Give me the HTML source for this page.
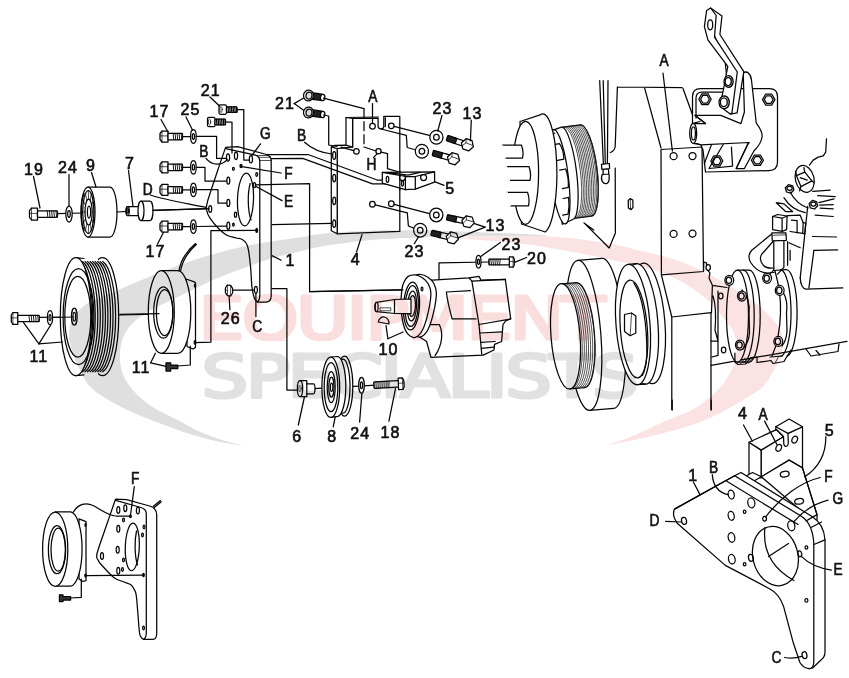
<!DOCTYPE html>
<html lang="en">
<head>
<meta charset="utf-8">
<title>Compressor Drive Assembly Diagram</title>
<style>
html,body{margin:0;padding:0;background:#fff;}
body{width:849px;height:678px;overflow:hidden;font-family:"Liberation Sans",sans-serif;}
svg{display:block;}
#draw path,#draw ellipse,#draw rect,#draw circle,#draw line{stroke:#050505;stroke-width:1.25;stroke-linejoin:round;stroke-linecap:round;}
#draw .t{stroke-width:0.7;}
#draw .th{stroke-width:0.9;}
#draw .g{stroke-width:0.75;stroke:#222;}
#draw .k{fill:#111;}
#labels text{font-family:"Liberation Sans",sans-serif;fill:#111;stroke:#111;stroke-width:0.65;}
#wm{mix-blend-mode:multiply;}
</style>
</head>
<body>
<svg width="849" height="678" viewBox="0 0 849 678">
<rect width="849" height="678" fill="#fff"/>
<g id="draw" fill="none">
<path d="M57.0,213.7L82.0,213.0"/>
<g transform="translate(29.5,214.0)"><path d="M2.0,-6.0L8.0,-6.0L8.0,6.0L2.0,6.0L0,3.3L0,-3.3Z" fill="#fff"/><path d="M2.0,-6.0L2.0,6.0M0,-0.6L8.0,-0.6" class="t"/><rect x="8.0" y="-3.2" width="20.0" height="6.5" rx="0.8" fill="#fff"/><path d="M17.7,-3.2L18.3,3.2M19.9,-3.2L20.5,3.2M22.1,-3.2L22.7,3.2M24.3,-3.2L24.9,3.2M26.5,-3.2L27.1,3.2" class="th"/></g>
<ellipse cx="69.0" cy="214.0" rx="3.2" ry="8.0" fill="#fff"/>
<ellipse cx="69.0" cy="214.0" rx="1.3" ry="3.4" fill="none"/>
<path d="M88,187L110,187A7,25 0 0 1 110,237L88,237Z" fill="#fff"/>
<ellipse cx="88.0" cy="212.0" rx="7.0" ry="25.0" fill="#fff"/>
<ellipse cx="88.3" cy="212.0" rx="5.6" ry="21.5" fill="none"/>
<ellipse cx="88.6" cy="212.0" rx="3.6" ry="13.0" fill="none"/>
<ellipse cx="89.0" cy="212.0" rx="1.6" ry="6.0" fill="none"/>
<path d="M92.2,212.0L93.9,212.0M91.7,218.5L93.1,222.8M90.4,223.3L91.1,230.6M88.6,225.0L88.3,233.5M86.8,223.3L85.5,230.6M85.5,218.5L83.5,222.8M85.0,212.0L82.7,212.0M85.5,205.5L83.5,201.2M86.8,200.7L85.5,193.4M88.6,199.0L88.3,190.5M90.4,200.7L91.1,193.4M91.7,205.5L93.1,201.2" class="t"/>
<path d="M84,193.5A6,22 0 0 0 84,230.5" stroke-width="1.6"/>
<path d="M117.0,212.0L127.0,211.4"/>
<path d="M127.5,206.5L139,206.5L139,215.5L127.5,215.5A1.6,4.5 0 0 1 127.5,206.5Z" fill="#fff"/>
<ellipse cx="127.8" cy="211.0" rx="1.5" ry="4.5" fill="none"/>
<ellipse cx="127.8" cy="211.0" rx="0.8" ry="2.3" fill="none"/>
<path d="M141,201L150,201A3,9.8 0 0 1 150,220.6L141,220.6A3,9.8 0 0 1 141,201Z" fill="#fff"/>
<path d="M141.0,201.0A3.0,9.8 0 0 1 141.0,220.6"/>
<path d="M153.0,210.4L209.0,208.6"/>
<path d="M33.5,176.5L40.0,208.0"/>
<path d="M69.0,174.5L69.0,206.0"/>
<path d="M91.5,172.5L96.0,187.0"/>
<path d="M128.5,170.5L133.0,206.5"/>
<path d="M150.5,195C165,200 185,203 209,208"/>
<path d="M157.5,244.0L164.0,231.5"/>
<path d="M182.0,136.5L191.0,136.5"/>
<g transform="translate(160.0,136.5)"><path d="M2.0,-5.5L8.0,-5.5L8.0,5.5L2.0,5.5L0,3.0L0,-3.0Z" fill="#fff"/><path d="M2.0,-5.5L2.0,5.5M0,-0.6L8.0,-0.6" class="t"/><rect x="8.0" y="-3.2" width="14.5" height="6.5" rx="0.8" fill="#fff"/><path d="M13.1,-3.2L13.7,3.2M15.1,-3.2L15.7,3.2M17.1,-3.2L17.7,3.2M19.1,-3.2L19.7,3.2M21.1,-3.2L21.7,3.2" class="th"/></g>
<ellipse cx="193.4" cy="136.5" rx="2.8" ry="6.8" fill="#fff"/>
<ellipse cx="193.4" cy="136.5" rx="1.1" ry="2.9" fill="none"/>
<path d="M182.0,167.3L191.0,167.3"/>
<g transform="translate(160.0,167.3)"><path d="M2.0,-5.5L8.0,-5.5L8.0,5.5L2.0,5.5L0,3.0L0,-3.0Z" fill="#fff"/><path d="M2.0,-5.5L2.0,5.5M0,-0.6L8.0,-0.6" class="t"/><rect x="8.0" y="-3.2" width="14.5" height="6.5" rx="0.8" fill="#fff"/><path d="M13.1,-3.2L13.7,3.2M15.1,-3.2L15.7,3.2M17.1,-3.2L17.7,3.2M19.1,-3.2L19.7,3.2M21.1,-3.2L21.7,3.2" class="th"/></g>
<ellipse cx="193.4" cy="167.3" rx="2.8" ry="6.8" fill="#fff"/>
<ellipse cx="193.4" cy="167.3" rx="1.1" ry="2.9" fill="none"/>
<path d="M182.0,189.8L191.0,189.8"/>
<g transform="translate(160.0,189.8)"><path d="M2.0,-5.5L8.0,-5.5L8.0,5.5L2.0,5.5L0,3.0L0,-3.0Z" fill="#fff"/><path d="M2.0,-5.5L2.0,5.5M0,-0.6L8.0,-0.6" class="t"/><rect x="8.0" y="-3.2" width="14.5" height="6.5" rx="0.8" fill="#fff"/><path d="M13.1,-3.2L13.7,3.2M15.1,-3.2L15.7,3.2M17.1,-3.2L17.7,3.2M19.1,-3.2L19.7,3.2M21.1,-3.2L21.7,3.2" class="th"/></g>
<ellipse cx="193.4" cy="189.8" rx="2.8" ry="6.8" fill="#fff"/>
<ellipse cx="193.4" cy="189.8" rx="1.1" ry="2.9" fill="none"/>
<path d="M182.0,226.6L191.0,226.6"/>
<g transform="translate(160.0,226.6)"><path d="M2.0,-5.5L8.0,-5.5L8.0,5.5L2.0,5.5L0,3.0L0,-3.0Z" fill="#fff"/><path d="M2.0,-5.5L2.0,5.5M0,-0.6L8.0,-0.6" class="t"/><rect x="8.0" y="-3.2" width="14.5" height="6.5" rx="0.8" fill="#fff"/><path d="M13.1,-3.2L13.7,3.2M15.1,-3.2L15.7,3.2M17.1,-3.2L17.7,3.2M19.1,-3.2L19.7,3.2M21.1,-3.2L21.7,3.2" class="th"/></g>
<ellipse cx="193.4" cy="226.6" rx="2.8" ry="6.8" fill="#fff"/>
<ellipse cx="193.4" cy="226.6" rx="1.1" ry="2.9" fill="none"/>
<path d="M161.0,119.5L168.0,132.0"/>
<path d="M186.0,117.0L192.5,130.0"/>
<rect x="219" y="104.89999999999999" width="7.5" height="9.4" rx="1.5" fill="#fff"/>
<ellipse cx="221" cy="109.6" rx="1.2" ry="3" class="t"/>
<rect x="226.5" y="106.8" width="10.5" height="5.6" rx="1" fill="#fff"/>
<path d="M228.0,106.8L228.4,112.39999999999999M229.7,106.8L230.1,112.39999999999999M231.4,106.8L231.8,112.39999999999999M233.1,106.8L233.5,112.39999999999999M234.8,106.8L235.2,112.39999999999999M236.5,106.8L236.9,112.39999999999999" stroke-width="1.2"/>
<rect x="207.5" y="117.3" width="7.5" height="9.4" rx="1.5" fill="#fff"/>
<ellipse cx="209.5" cy="122" rx="1.2" ry="3" class="t"/>
<rect x="215.0" y="119.2" width="10.5" height="5.6" rx="1" fill="#fff"/>
<path d="M216.5,119.2L216.9,124.8M218.2,119.2L218.6,124.8M219.9,119.2L220.3,124.8M221.6,119.2L222.0,124.8M223.3,119.2L223.7,124.8M225.0,119.2L225.4,124.8" stroke-width="1.2"/>
<path d="M210.0,97.0L219.5,106.0"/>
<path d="M257.5,302.0C257.0,301.4 255.3,300.6 254.4,298.2C253.5,295.8 252.7,292.9 252.0,287.5C251.3,282.1 251.2,272.9 250.5,266.0C249.8,259.1 248.9,250.4 247.5,246.0C246.1,241.6 244.0,240.7 242.1,239.4C240.2,238.1 238.6,238.7 236.0,238.0C233.4,237.3 229.6,236.8 226.8,235.3C224.0,233.8 221.8,231.8 219.0,229.0C216.2,226.2 212.1,221.4 210.0,218.2C207.9,215.0 207.0,212.6 206.6,209.8C206.2,207.0 205.8,207.8 207.6,201.3C209.4,194.8 214.6,179.7 217.6,170.7C220.6,161.7 224.3,151.3 225.6,147.4L237.5,146.6L266.5,154.5Q271.2,156 271.2,161L271.2,296Q271,302 266,302Z" fill="#fff"/>
<path d="M225.8,148.6L255.5,155.2Q259.8,156.5 259.8,161.5L259.8,296Q259.5,300.5 257.5,302"/>
<path d="M259,157.3L270.5,157.3M259.8,160.5L271.2,160.5M257,155.6L268.6,155.4" class="t"/>
<ellipse cx="228.0" cy="157.6" rx="1.6" ry="3.7" fill="none"/>
<ellipse cx="236.0" cy="155.8" rx="1.6" ry="3.7" fill="none"/>
<ellipse cx="250.9" cy="159.2" rx="1.6" ry="3.7" fill="none"/>
<ellipse cx="228.3" cy="180.6" rx="1.5" ry="3.6" fill="none"/>
<ellipse cx="228.3" cy="202.9" rx="1.5" ry="3.6" fill="none"/>
<ellipse cx="228.3" cy="225.8" rx="1.5" ry="3.6" fill="none"/>
<ellipse cx="210.2" cy="209.0" rx="1.5" ry="3.4" fill="none"/>
<ellipse cx="233.4" cy="168.8" rx="0.9" ry="1.5" fill="none"/>
<ellipse cx="256.7" cy="174.5" rx="0.9" ry="1.8" fill="none"/>
<ellipse cx="254.4" cy="185.2" rx="1.2" ry="2.5" fill="none"/>
<ellipse cx="235.5" cy="214.7" rx="1.1" ry="2.6" fill="none"/>
<ellipse cx="233.4" cy="224.6" rx="0.8" ry="1.6" fill="none"/>
<ellipse cx="241.0" cy="166.0" rx="1.0" ry="1.6" fill="#111"/>
<ellipse cx="256.7" cy="230.4" rx="0.9" ry="2.0" fill="#111"/>
<ellipse cx="245.5" cy="199.5" rx="8.0" ry="26.4" fill="none" transform="rotate(2 245.5 199.5)"/>
<path d="M250.2,183.5C247.5,193 247.5,210 251,220"/>
<path d="M196.2,136.3L216.6,136.3L216.6,158.4L226.5,158.4"/>
<path d="M196.2,167.3L205.0,167.3L205.0,181.0L226.8,181.0"/>
<path d="M196.2,189.6L218.0,189.6L218.0,203.2L226.8,203.2"/>
<path d="M196.2,226.5L226.8,226.2"/>
<path d="M237.2,109.5L243.8,109.5L243.8,160.0L249.5,160.0"/>
<path d="M225.5,122.0L232.0,122.0L232.0,153.0"/>
<path d="M153.0,210.4L209.0,208.6"/>
<path d="M206,158.4C212,166 222,166 227.3,159.3"/>
<path d="M260.5,143.8L252.0,155.3"/>
<path d="M241.8,166.6L281.2,173.0"/>
<path d="M255.2,186.0L282.0,200.6"/>
<path d="M255.4,184.8L309.6,183.7L309.6,291.7L403.0,289.8"/>
<path d="M272.0,224.6L331.5,223.4"/>
<path d="M272.0,255.6L281.2,260.2"/>
<path d="M272.0,288.7L286.9,288.7L286.9,390.0L298.3,390.0"/>
<path d="M232.2,290.2L254.4,290.2"/>
<path d="M225.4,288L227.4,285L230.6,285.4L232.6,288.4L232.6,293L230.6,296L227.4,295.6L225.4,292.6Z" fill="#fff"/>
<path d="M227.4,285L227.6,295.6M230.6,285.4L230.6,296M225.4,290.3L227.5,290.3" class="t"/>
<ellipse cx="255.9" cy="289.8" rx="1.5" ry="3.5" fill="none"/>
<path d="M229.1,296.0L229.9,309.7"/>
<path d="M255.9,293.3L255.9,316.6"/>
<path d="M195.0,342.7L210.9,342.2L210.9,230.6L256.0,230.3"/>
<path d="M337.2,148.5L352.6,147L352.6,118.5L378.1,118.2L378.1,126.5Q378.3,128.9 381,128.9Q383.8,128.9 383.8,126.5L383.8,116.4L399.8,116.4L399.8,231.4L337.2,233.8Z" fill="#fff"/>
<path d="M331.3,147L337.2,148.5L337.2,233.8L331.3,230.7Z" fill="#fff"/>
<path d="M331.3,147L334.7,145.4L346,145.2L352.6,147L337.2,148.5Z" fill="#fff"/>
<path d="M346,117.5L352.6,118.5L352.6,147L346,145.2Z" fill="#fff"/>
<path d="M346,117.5L378.1,117M385.3,117.5L385.3,126.5"/>
<ellipse cx="372.5" cy="126.2" rx="2.8" ry="2.8" fill="none"/>
<ellipse cx="391.3" cy="125.8" rx="2.8" ry="2.8" fill="none"/>
<ellipse cx="356.4" cy="151.3" rx="2.8" ry="2.8" fill="none"/>
<ellipse cx="372.4" cy="204.2" rx="2.8" ry="2.8" fill="none"/>
<ellipse cx="391.3" cy="203.7" rx="2.8" ry="2.8" fill="none"/>
<ellipse cx="378.5" cy="151.3" rx="2.6" ry="2.6" fill="none"/>
<ellipse cx="334.2" cy="155.5" rx="1.5" ry="3.8" fill="none"/>
<ellipse cx="334.2" cy="178.1" rx="1.5" ry="3.8" fill="none"/>
<ellipse cx="334.2" cy="200.8" rx="1.5" ry="3.8" fill="none"/>
<ellipse cx="334.2" cy="223.6" rx="1.5" ry="3.8" fill="none"/>
<path d="M266.7,154.6L308.0,154.5L377.2,180.0L387.5,180.0"/>
<path d="M271.2,158.6L302.7,158.3L372.5,183.8L400.8,183.8"/>
<g transform="translate(308.5,95.5) rotate(8)"><rect x="3" y="-3.2" width="11.5" height="6.4" rx="1.5" fill="#222"/><ellipse cx="14.3" cy="0" rx="2.2" ry="3.2" fill="#fff"/><ellipse cx="0" cy="0" rx="5" ry="5.4" fill="#fff" stroke-width="1.5"/><ellipse cx="0.5" cy="0" rx="3" ry="3.5" fill="#ddd" stroke-width="1.3"/></g>
<g transform="translate(308.5,112.5) rotate(8)"><rect x="3" y="-3.2" width="11.5" height="6.4" rx="1.5" fill="#222"/><ellipse cx="14.3" cy="0" rx="2.2" ry="3.2" fill="#fff"/><ellipse cx="0" cy="0" rx="5" ry="5.4" fill="#fff" stroke-width="1.5"/><ellipse cx="0.5" cy="0" rx="3" ry="3.5" fill="#ddd" stroke-width="1.3"/></g>
<path d="M294.2,103.6L303.6,98.0"/>
<path d="M294.2,103.6L303.6,110.2"/>
<path d="M323.5,98.2L364.0,108.7"/>
<path d="M364,108.7L364,147" stroke-dasharray="9 4"/>
<path d="M364.0,147.0L376.0,151.0"/>
<path d="M381.2,152.2L387.5,153.6L387.5,168.7L400.8,172.5"/>
<path d="M323.5,115.0L328.7,116.0L328.7,145.0L337.0,146.5"/>
<path d="M341.0,147.2L353.8,150.6"/>
<path d="M304.5,142.3C312,149 322,153 331.9,154"/>
<path d="M372.5,103.5L372.5,123.4"/>
<path d="M373.4,157.7L377.0,153.8"/>
<path d="M394.0,126.4L430.4,135.7"/>
<path d="M381.0,129.0L406.3,135.3L407.2,147.5L416.0,150.0"/>
<path d="M375.2,204.8L407.3,212.8L408.4,226.0L414.3,228.3"/>
<path d="M394.0,204.4L430.4,213.8"/>
<g transform="translate(447,138) rotate(18.5)"><rect x="8" y="-2.7" width="9" height="5.4" fill="#fff"/><rect x="0" y="-2.8" width="9.5" height="5.6" rx="1" fill="#222"/><path d="M27.8,0L24.6,5.4L18.4,5.4L15.2,0L18.4,-5.4L24.6,-5.4Z" fill="#fff"/><path d="M18.4,-5.4L19.5,-1.5L17,2.5M19.5,-1.5L26.5,-1" class="t"/></g>
<g transform="translate(432.8,153) rotate(15.5)"><rect x="8" y="-2.7" width="9" height="5.4" fill="#fff"/><rect x="0" y="-2.8" width="9.5" height="5.6" rx="1" fill="#222"/><path d="M27.8,0L24.6,5.4L18.4,5.4L15.2,0L18.4,-5.4L24.6,-5.4Z" fill="#fff"/><path d="M18.4,-5.4L19.5,-1.5L17,2.5M19.5,-1.5L26.5,-1" class="t"/></g>
<g transform="translate(447,217.3) rotate(12)"><rect x="8" y="-2.7" width="9" height="5.4" fill="#fff"/><rect x="0" y="-2.8" width="9.5" height="5.6" rx="1" fill="#222"/><path d="M27.8,0L24.6,5.4L18.4,5.4L15.2,0L18.4,-5.4L24.6,-5.4Z" fill="#fff"/><path d="M18.4,-5.4L19.5,-1.5L17,2.5M19.5,-1.5L26.5,-1" class="t"/></g>
<g transform="translate(431.4,232.8) rotate(13.5)"><rect x="8" y="-2.7" width="9" height="5.4" fill="#fff"/><rect x="0" y="-2.8" width="9.5" height="5.6" rx="1" fill="#222"/><path d="M27.8,0L24.6,5.4L18.4,5.4L15.2,0L18.4,-5.4L24.6,-5.4Z" fill="#fff"/><path d="M18.4,-5.4L19.5,-1.5L17,2.5M19.5,-1.5L26.5,-1" class="t"/></g>
<ellipse cx="436.4" cy="137.2" rx="6.6" ry="6.9" fill="#fff" stroke-width="1.2"/>
<ellipse cx="436.4" cy="137.2" rx="2.8" ry="2.9" fill="none"/>
<ellipse cx="421.9" cy="151.3" rx="6.6" ry="6.9" fill="#fff" stroke-width="1.2"/>
<ellipse cx="421.9" cy="151.3" rx="2.8" ry="2.9" fill="none"/>
<ellipse cx="436.3" cy="214.9" rx="6.6" ry="6.9" fill="#fff" stroke-width="1.2"/>
<ellipse cx="436.3" cy="214.9" rx="2.8" ry="2.9" fill="none"/>
<ellipse cx="420.2" cy="230.2" rx="6.6" ry="6.9" fill="#fff" stroke-width="1.2"/>
<ellipse cx="420.2" cy="230.2" rx="2.8" ry="2.9" fill="none"/>
<path d="M442.0,115.5L437.7,131.0"/>
<path d="M471.3,120.2L470.4,140.6"/>
<path d="M485.1,227.2L474.5,223.6"/>
<path d="M485.1,227.2L458.0,237.8"/>
<path d="M414.3,243.7L418.6,236.6"/>
<path d="M362.0,234.7L356.6,251.9"/>
<path d="M382.3,172.3L434.6,171.8L434.6,182.2L415.3,189.2L405.4,189.7L382.3,183.1Z" fill="#fff"/>
<path d="M382.3,172.3L405.8,176.5L415.3,176.5L434.6,171.8M405.4,176.5L405.4,189.7M415.3,176.5L415.3,189.2M388,172.5L408,175.2L420,172.4" />
<ellipse cx="402.5" cy="177.5" rx="3.0" ry="3.0" fill="none"/>
<ellipse cx="423.6" cy="177.5" rx="3.0" ry="3.0" fill="none"/>
<ellipse cx="387.5" cy="179.3" rx="1.3" ry="3.0" fill="none"/>
<ellipse cx="402.5" cy="183.3" rx="1.0" ry="2.8" fill="none"/>
<path d="M399.8,171.0L399.8,190.0"/>
<path d="M434.5,181.7L444.0,185.3"/>
<path d="M439.0,288.7L439.0,262.8L489.0,262.0"/>
<ellipse cx="478.5" cy="261.8" rx="2.5" ry="6.4" fill="#fff"/>
<ellipse cx="478.5" cy="261.8" rx="1.0" ry="2.7" fill="none"/>
<g transform="translate(514.3,262.0) scale(-1,1)"><path d="M1.2,-5.2L5.0,-5.2L5.0,5.2L1.2,5.2L0,2.9L0,-2.9Z" fill="#fff"/><path d="M1.2,-5.2L1.2,5.2M0,-0.5L5.0,-0.5" class="t"/><rect x="5.0" y="-2.9" width="20.5" height="5.8" rx="0.8" fill="#fff"/><path d="M14.1,-2.9L14.7,2.9M16.1,-2.9L16.7,2.9M18.1,-2.9L18.7,2.9M20.1,-2.9L20.7,2.9M22.1,-2.9L22.7,2.9M24.1,-2.9L24.7,2.9" class="th"/></g>
<path d="M500.4,242.5L480.4,256.7"/>
<path d="M514.6,262.3L526.6,257.5"/>
<path d="M428.0,280.4L469.1,277.8L479.0,276.4L481.0,280.1L505.3,279.3L510.7,318.9L505.9,320.6L503.0,324.5L501.6,341.5L494.5,344.4L494.0,350.0L483.2,355.1L430.9,357.4L426.6,341.5L418.1,335.9L423.8,284.9Z" fill="#fff"/>
<path d="M469.1,277.8L471.9,281.2L505.3,279.3"/>
<path d="M471.9,281.2L479.0,324.5L510.7,318.9"/>
<path d="M479.0,324.5L481.8,354.5"/>
<path d="M479.8,333.0L502.2,331.9M480.7,342.4L495.1,341.5M481.2,348.3L494.0,347.2"/>
<path d="M446.4,292.0L470.5,290.6M452.1,318.9L476.1,318.9M446.4,292.0C447.4,302.0 449.6,308.9 452.1,318.9"/>
<path d="M422.4,324.5L439.3,324.5C443.0,331.9 443.0,343.9 435.1,355.7"/>
<path d="M409.5,281.6C410.6,279.2 411.8,277.1 413.7,275.9C415.6,274.7 418.4,274.3 420.8,274.5C423.1,274.7 425.7,275.9 427.9,277.3C430.0,278.8 432.1,280.4 433.5,283.0C434.9,285.6 436.4,288.0 436.4,292.9C436.4,297.9 434.9,306.6 433.5,312.7C432.1,318.9 430.0,325.7 427.9,329.7C425.7,333.7 423.1,336.1 420.8,336.8C418.4,337.5 415.7,336.1 413.7,333.9C411.7,331.8 410.1,328.5 408.9,324.0C407.7,319.6 406.9,312.7 406.6,307.1C406.4,301.4 406.7,294.3 407.2,290.1C407.7,285.8 408.4,283.9 409.5,281.6Z" fill="#fff"/>
<path d="M404.0,282.1C405.1,279.7 406.3,277.6 408.2,276.4C410.1,275.2 412.9,274.8 415.3,275.0C417.6,275.2 420.2,276.4 422.4,277.8C424.5,279.3 426.6,280.9 428.0,283.5C429.4,286.1 430.9,288.5 430.9,293.4C430.9,298.4 429.4,307.1 428.0,313.2C426.6,319.4 424.5,326.2 422.4,330.2C420.2,334.2 417.6,336.6 415.3,337.3C412.9,338.0 410.2,336.6 408.2,334.4C406.2,332.3 404.6,329.0 403.4,324.5C402.2,320.1 401.4,313.2 401.1,307.6C400.9,301.9 401.2,294.8 401.7,290.6C402.2,286.3 402.9,284.4 404.0,282.1Z" fill="#fff"/>
<ellipse cx="411.5" cy="306.0" rx="8.0" ry="24.0" fill="#fff" transform="rotate(3 411.5 306.0)"/>
<ellipse cx="411.7" cy="306.0" rx="6.6" ry="20.5" fill="none" transform="rotate(3 411.7 306.0)" stroke-width="1.7"/>
<ellipse cx="412.0" cy="306.0" rx="4.6" ry="15.0" fill="none" transform="rotate(3 412.0 306.0)"/>
<ellipse cx="412.2" cy="306.0" rx="3.2" ry="10.5" fill="none" transform="rotate(3 412.2 306.0)" stroke-width="1.3"/>
<ellipse cx="422.0" cy="289.0" rx="0.9" ry="1.8" fill="none"/>
<path d="M411,299L394.5,299.5L376.5,302.3A1.6,4.7 0 0 0 376.5,311.7L394.5,313.5L411,313.7Z" fill="#fff"/>
<ellipse cx="376.6" cy="307.0" rx="1.5" ry="4.7" fill="none"/>
<path d="M394.5,299.5L394.5,313.5"/>
<rect x="380.4" y="307.8" width="10.4" height="3" class="t"/>
<path d="M378.3,322A5.3,6 0 0 1 388.9,324Z" fill="#fff"/>
<path d="M387.9,338.7L386.0,325.5"/>
<path d="M387.9,338.7L403.0,332.0"/>
<path d="M309.6,291.7L403.0,289.8"/>
<path d="M314.3,388.7L398.3,383.8"/>
<path d="M300,380.6L306.8,380.6L306.8,383.8L313.5,383.8A1.5,5 0 0 1 313.5,393.8L306.8,393.8L306.8,396.6L300,396.6A2.6,8 0 0 1 300,380.6Z" fill="#fff"/>
<path d="M300.0,380.6A2.6,8.0 0 0 1 300.0,396.6"/>
<ellipse cx="300.0" cy="388.6" rx="1.2" ry="3.2" fill="none" class="t"/>
<path d="M306.8,383.8L306.8,393.8"/>
<ellipse cx="344.5" cy="386.2" rx="8.3" ry="30.0" fill="#fff"/>
<ellipse cx="343.0" cy="386.2" rx="7.0" ry="27.0" fill="none"/>
<path d="M330.8,357L338,356.5A8.5,30 0 0 1 338,416.3L330.8,417.4Z" fill="#fff"/>
<ellipse cx="330.8" cy="387.2" rx="8.9" ry="30.2" fill="#fff"/>
<ellipse cx="331.0" cy="387.2" rx="6.8" ry="24.5" fill="none"/>
<ellipse cx="331.2" cy="387.2" rx="4.0" ry="15.5" fill="none"/>
<ellipse cx="331.4" cy="387.2" rx="2.6" ry="10.0" fill="none" stroke-width="1.5"/>
<ellipse cx="331.6" cy="387.2" rx="1.2" ry="4.2" fill="none"/>
<ellipse cx="361.5" cy="385.3" rx="2.8" ry="8.0" fill="#fff"/>
<ellipse cx="361.5" cy="385.3" rx="1.1" ry="3.4" fill="none"/>
<g transform="translate(404.0,383.6) rotate(-3) scale(-1,1)"><path d="M1.4,-5.8L5.7,-5.8L5.7,5.8L1.4,5.8L0,3.2L0,-3.2Z" fill="#fff"/><path d="M1.4,-5.8L1.4,5.8M0,-0.6L5.7,-0.6" class="t"/><rect x="5.7" y="-3.2" width="24.5" height="6.4" rx="0.8" fill="#fff"/><path d="M14.8,-3.2L15.4,3.2M16.8,-3.2L17.4,3.2M18.8,-3.2L19.4,3.2M20.8,-3.2L21.4,3.2M22.8,-3.2L23.4,3.2M24.8,-3.2L25.4,3.2M26.8,-3.2L27.4,3.2M28.8,-3.2L29.4,3.2" class="th"/></g>
<path d="M304.3,397.5L298.3,425.0"/>
<path d="M335.1,417.4L333.2,426.8"/>
<path d="M361.9,393.3L359.6,422.0"/>
<path d="M395.5,388.7L388.9,421.1"/>
<path d="M38.0,317.4L74.0,317.0"/>
<path d="M118.0,315.0L160.0,314.2"/>
<ellipse cx="102.5" cy="316.7" rx="16.2" ry="59.0" fill="#fff"/>
<path d="M75.9,257.7L98,257.7L98,375.7L75.9,375.7Z" fill="#fff" style="stroke:none"/>
<path d="M79.9,261.6A15.6,56.0 0 0 1 79.9,371.8M82.4,261.6A15.6,56.0 0 0 1 82.4,371.8M85.0,261.6A15.6,56.0 0 0 1 85.0,371.8M87.5,261.6A15.6,56.0 0 0 1 87.5,371.8M90.1,261.6A15.6,56.0 0 0 1 90.1,371.8M92.6,261.6A15.6,56.0 0 0 1 92.6,371.8M95.1,261.6A15.6,56.0 0 0 1 95.1,371.8M97.7,261.6A15.6,56.0 0 0 1 97.7,371.8M100.2,261.6A15.6,56.0 0 0 1 100.2,371.8M102.8,261.6A15.6,56.0 0 0 1 102.8,371.8" stroke-width="0.95"/>
<path d="M75.9,257.7L84,258.5M75.9,375.7L84,374.9"/>
<ellipse cx="75.9" cy="316.7" rx="15.6" ry="59.0" fill="#fff"/>
<ellipse cx="78.5" cy="316.7" rx="15.4" ry="48.0" fill="none"/>
<ellipse cx="77.8" cy="316.7" rx="13.0" ry="40.3" fill="#fff"/>
<ellipse cx="74.3" cy="316.7" rx="2.8" ry="8.5" fill="none"/>
<ellipse cx="74.3" cy="316.7" rx="1.3" ry="4.3" fill="none"/>
<path d="M52.6,317.5L73.0,317.0"/>
<g transform="translate(11.3,318.5)"><path d="M1.6,-5.9L6.5,-5.9L6.5,5.9L1.6,5.9L0,3.2L0,-3.2Z" fill="#fff"/><path d="M1.6,-5.9L1.6,5.9M0,-0.6L6.5,-0.6" class="t"/><rect x="6.5" y="-3.2" width="21.5" height="6.4" rx="0.8" fill="#fff"/><path d="M17.7,-3.2L18.3,3.2M19.9,-3.2L20.5,3.2M22.1,-3.2L22.7,3.2M24.3,-3.2L24.9,3.2M26.5,-3.2L27.1,3.2" class="th"/></g>
<ellipse cx="50.0" cy="317.6" rx="2.6" ry="7.0" fill="#fff"/>
<ellipse cx="50.0" cy="317.6" rx="1.0" ry="2.9" fill="none"/>
<path d="M38.9,343.8L23.6,322.6"/>
<path d="M38.9,343.8L50.7,325.0"/>
<path d="M38.9,343.8L62.5,342.0"/>
<path d="M186,279L194.3,281.8L195.5,283L195.5,347.4L193,349L187,346.5Z" fill="#fff"/>
<ellipse cx="195.0" cy="285.5" rx="0.6" ry="1.5" fill="#111"/>
<ellipse cx="195.0" cy="342.5" rx="0.8" ry="1.8" fill="#111"/>
<path d="M179,270.7C181,258 188,250 195.5,243.6M180.6,271C182.5,259 189,251 196.3,244.5"/>
<path d="M161.3,270.7L177.8,270.7A13,41.3 0 0 1 177.8,353.3L161.3,353.3Z" fill="#fff"/>
<ellipse cx="161.3" cy="312.0" rx="13.0" ry="41.3" fill="#fff"/>
<ellipse cx="163.3" cy="312.5" rx="9.6" ry="25.6" fill="none"/>
<ellipse cx="164.6" cy="312.5" rx="8.2" ry="23.0" fill="none"/>
<path d="M120.0,314.4L159.0,313.7"/>
<path d="M166,362.8L170.7,362.8L170.7,365L177.8,365L177.8,368.6L170.7,368.6L170.7,371L166,371Z" fill="#333"/>
<path d="M177.8,366.0L190.3,365.0L190.3,346.0"/>
<path d="M150.7,362.8L155.4,353.3"/>
<path d="M150.7,362.8L166.0,366.3"/>
<path d="M617.4,87L682.2,87.7M617.4,87L615.2,146Q615,151 610.3,152.5M615.2,168L615.4,233L609.2,248L584,222.9M644.5,87.7L661,148M584.3,223.3L593.8,230"/>
<path d="M661,149.5L702,147L703.5,271.5L661.4,274.9Z" fill="#fff"/>
<ellipse cx="673.6" cy="156.2" rx="3.5" ry="3.5" fill="none"/>
<ellipse cx="692.5" cy="156.0" rx="3.5" ry="3.5" fill="none"/>
<ellipse cx="673.6" cy="233.9" rx="3.5" ry="3.5" fill="none"/>
<ellipse cx="692.5" cy="233.6" rx="3.5" ry="3.5" fill="none"/>
<path d="M661.4,274.9L671.8,317L711,312.7L711,409.5M671.8,317L671.8,409.5M703.5,271.5L703.8,262" />
<path d="M663.0,73.2L672.4,151.0"/>
<path d="M628.2,200.5L630.2,198.6L632.8,200L633,207.5L631,209.6L628.4,208Z" fill="#fff"/>
<path d="M630.2,198.6L630.6,209.4" class="t"/>
<path d="M599.7,80.6L603.4,164.3M603.2,80.6L605.3,164.3M608,80.6L607.4,164.3"/>
<path d="M601.5,164.3L609.3,163.5L609.6,168.5L601.8,169.3ZM603,169.3L608.5,168.8L608.7,174L603.2,174.5ZM602.2,174.5C600,180 603,184.5 607,183.5C609.5,182 609.5,178 609,174" fill="#fff"/>
<g transform="rotate(-7 578 171.5)">
<path d="M568,125.5L586,125.5A11,46 0 0 1 586,217.5L568,217.5Z" fill="#fff"/>
<path d="M569.4,125.5A11.0,46.0 0 0 1 569.4,217.5M571.1,125.5A11.0,46.0 0 0 1 571.1,217.5M572.8,125.5A11.0,46.0 0 0 1 572.8,217.5M574.5,125.5A11.0,46.0 0 0 1 574.5,217.5M576.2,125.5A11.0,46.0 0 0 1 576.2,217.5M577.9,125.5A11.0,46.0 0 0 1 577.9,217.5M579.6,125.5A11.0,46.0 0 0 1 579.6,217.5M581.3,125.5A11.0,46.0 0 0 1 581.3,217.5M583.0,125.5A11.0,46.0 0 0 1 583.0,217.5M584.7,125.5A11.0,46.0 0 0 1 584.7,217.5M586.4,125.5A11.0,46.0 0 0 1 586.4,217.5" class="g"/>
<path d="M553,128.5L567,125.5A9.5,46.5 0 0 1 567,218.5L556,222Z" fill="#fff"/>
<ellipse cx="559.0" cy="174.5" rx="8.8" ry="47.5" fill="#fff"/>
<path d="M553.5,131.5L559.5,130.5M556,142L563,141.5C565.5,146 566,152 565.5,157.5L559,158M560,168L566,167.5C567.5,173 567.5,180 566.5,186L560.5,186.5M560,196.5L565.5,196C565.5,202 564.5,208 563,212.5L557.5,213"/>
</g>
<path d="M520,121.5L540.2,114.8A14,58.7 0 0 1 545.2,232L521.5,224Z" fill="#fff"/>
<ellipse cx="525.6" cy="172.8" rx="13.0" ry="51.5" fill="#fff"/>
<path d="M504,145.2L524,145.2L526,206L508,206Z" fill="#fff" style="stroke:none"/>
<path d="M502,145.2L521.5,145.2Q524.0,151.7 522.5,158.2L505,158.2" fill="#fff"/>
<path d="M506.3,166.5L529,166.5Q531.5,173.4 530,180.3L509.3,180.3" fill="#fff"/>
<path d="M507,192.3L527.5,192.3Q530.0,199.10000000000002 528.5,205.9L510,205.9" fill="#fff"/>
<path d="M502,145.2L505,158.2M506.3,166.5L509.3,180.3M507,192.3L510,205.9" style="stroke:#fff;stroke-width:1.6"/>
<path d="M683,88.5L693.7,118"/>
<path d="M700.5,88.5L769.5,88.5Q777.5,88.5 777.5,96.5L777.5,162Q777.5,170.4 769,170.6L705.5,172L703,150L692.5,123L692.5,96.5Q692.5,88.5 700.5,88.5Z" fill="#fff"/>
<path d="M696,118L696,98Q696,92 702,92L726,92"/>
<path d="M711.2,99.2L708.1,104.6L701.9,104.6L698.8,99.2L701.9,93.8L708.1,93.8Z" fill="#fff"/>
<path d="M774.9,99.6L771.8,105.0L765.6,105.0L762.5,99.6L765.6,94.2L771.8,94.2Z" fill="#fff"/>
<path d="M722.8,161.0L719.8,166.2L713.8,166.2L710.8,161.0L713.8,155.8L719.8,155.8Z" fill="#fff"/>
<path d="M763.4,160.2L760.4,165.4L754.4,165.4L751.4,160.2L754.4,155.0L760.4,155.0Z" fill="#fff"/>
<path d="M709.4,99.2L707.2,103.0L702.8,103.0L700.6,99.2L702.8,95.4L707.2,95.4Z" fill="#fff"/>
<path d="M773.1,99.6L770.9,103.4L766.5,103.4L764.3,99.6L766.5,95.8L770.9,95.8Z" fill="#fff"/>
<path d="M721.0,161.0L718.9,164.6L714.7,164.6L712.6,161.0L714.7,157.4L718.9,157.4Z" fill="#fff"/>
<path d="M761.6,160.2L759.5,163.8L755.3,163.8L753.2,160.2L755.3,156.6L759.5,156.6Z" fill="#fff"/>
<path d="M694.9,115.3L720.8,115.3L740.9,123.6L744.4,112L743.2,73.2C747,70 751,74 751.5,80.3L756.2,122.8C760,128 763,133 762.1,137C761,143 757,148 753.9,151L744.4,168.5L736.2,168.5L748,143.7L749.2,142.5L700.8,144.9L697,143.5L693,143.3L693,123.5L705.5,123.6Z" fill="#fff"/>
<path d="M711.4,144.9L704.3,163.7M723.2,144.5L709,168.5M731.4,147.2L732.6,166.1M736.2,168.5L748,143.7M694.9,115.3L705.5,123.6M709,168.5L732.6,166.1"/>
<path d="M693.2,123.4L700,121.5M693.2,143.4L699,144.5"/>
<ellipse cx="693.2" cy="133.4" rx="3.5" ry="10.0" fill="#fff"/>
<ellipse cx="693.4" cy="133.4" rx="2.0" ry="6.5" fill="none"/>
<path d="M710.6,8.0L722.0,15.9L719.9,34.5L743.8,71.7L737.1,112.9L730.5,114.2L725.0,60.0L712.0,30.0Z" fill="#fff"/>
<path d="M706.6,10.6L704.4,26.6L707.9,39.9L727.8,66.4L723.8,87.7L719.9,106.3L730.5,114.2L732.0,112.5L737.3,72.0L714.5,37.2L716.2,15.5L710.6,8.0Z" fill="#fff"/>
<ellipse cx="710.2" cy="24.8" rx="2.5" ry="5.0" fill="none"/>
<ellipse cx="728.6" cy="81.5" rx="4.6" ry="5.8" fill="#fff"/>
<ellipse cx="728.2" cy="81.5" rx="3.0" ry="4.0" fill="#fff"/>
<ellipse cx="724.2" cy="102.3" rx="5.2" ry="6.4" fill="#fff"/>
<ellipse cx="723.8" cy="102.3" rx="3.4" ry="4.4" fill="#fff"/>
<path d="M729,76L731.8,77L731.8,86L729,87M724.5,96.3L728,97.3L728,107.5L724.5,108.5" class="t"/>
<path d="M826.5,138.8L825.7,152.1L823.2,155.8L818.2,157.1L813.2,160.1L809.4,165.1"/>
<ellipse cx="804.7" cy="178.9" rx="9.3" ry="13.6" fill="#fff" transform="rotate(-14 804.7 178.9)"/>
<path d="M796.4,175.6L804.7,172.1L811.9,180.9L800.9,186.6L796.4,175.6" stroke-width="1.4"/>
<path d="M804.7,172.1L803.9,167.6M811.9,180.9L813.9,182.6M800.9,186.6L799.6,190.9M796.4,175.6L795.6,171.4M800.2,177.6L807.2,180.1"/>
<path d="M793.9,190.0L790.7,193.2L786.5,192.0L785.3,187.8L788.5,184.6L792.7,185.8Z" fill="#fff"/>
<ellipse cx="789.6" cy="188.3" rx="2.6" ry="2.0" fill="none"/>
<path d="M817.7,205.8L814.5,209.0L810.3,207.8L809.1,203.6L812.3,200.4L816.5,201.6Z" fill="#fff"/>
<ellipse cx="813.4" cy="204.1" rx="2.6" ry="2.0" fill="none"/>
<path d="M812.7,191.4L830.2,190.2M817.7,195.7L835.2,196.7M818.9,202.7L834.0,198.9M819.7,205.2L833.2,204.7M820.2,208.2L833.2,208.9M815.2,215.2L833.2,216.5M812.7,236.5L836.5,237.0M813.9,250.3L837.7,249.8"/>
<path d="M783.9,197.7C789,206 797,211 805.2,212.7M790,192C795,201 802,206 808,208"/>
<path d="M776.3,202.7L783.9,203.9L792.6,211.5L785.6,211.5L776.3,202.7"/>
<path d="M807.7,206.4L800.2,277.9"/>
<path d="M800.2,277.9C800.5,285 803,289.5 806.4,289.1L842.8,287.9"/>
<path d="M813.9,250.3L808.9,287.9"/>
<path d="M787.6,215.7L800.2,215.2L803.2,222.7L802.7,233.3L790.1,231.5" fill="#fff"/>
<path d="M791.4,220.2L797.1,220.7L797.1,232.8M803.2,222.7L805.7,223.2L804.7,234.0L802.7,233.3"/>
<path d="M772.6,216.5L777.6,214.5L787.1,216.0L786.6,229.7L782.1,231.3L772.6,229.7L772.6,216.5" fill="#fff"/>
<path d="M772.6,216.5L782.1,218.2L787.1,216.0M782.1,218.2L782.1,231.3"/>
<path d="M771.8,232.8L785.9,232.8L786.4,240.3L772.3,240.8L771.8,232.8" fill="#fff"/>
<path d="M772.6,235.3L785.9,234.8" class="t"/>
<path d="M771,234.5L751.5,250.5C748.5,254 748.5,259 751,263C755,269 761,272.5 767,273L774,272.5"/>
<path d="M772.5,242L761.5,254.5C759.5,258 760.5,262 763.5,265.5C766,268 769.5,268.5 773.8,268"/>
<path d="M773.8,241.0L773.8,270.4L765.1,277.9M783.9,241.0L783.9,267.3L777.6,274.1M787.6,241.5L787.6,265.3"/>
<path d="M788.9,242.8L800.2,247.8M790.1,250.3L790.1,260.3"/>
<path d="M711,365.3L847,341.4"/>
<path d="M786.4,269.5A11.0,43.5 0 0 1 787.1,356.3"/>
<path d="M780.8,269.6A11.0,43.5 0 0 1 780.8,356.4"/>
<path d="M773,270.5L786,269.6M770,357L782,356"/>
<path d="M775,271C779,285 781,300 780.5,313C780,330 777,345 772,356"/>
<path d="M783,292C786.5,298 787.5,306 786.5,313L787,331C786.5,338 784.5,343 782,346"/>
<path d="M749.2,270.0A11.0,46.0 0 0 1 749.2,362.0"/>
<path d="M743.2,270.0A11.0,46.0 0 0 1 743.2,362.0"/>
<ellipse cx="737.5" cy="316.0" rx="11.0" ry="46.0" fill="#fff"/>
<path d="M737.5,270L748.8,270M737.5,362L748.8,362"/>
<path d="M742,290C747.5,296 750,305 749,314L749.5,333C749,340 746.5,345 743,349"/>
<ellipse cx="729.3" cy="280.3" rx="4.4" ry="5.0" fill="#fff" stroke-width="1.2"/>
<ellipse cx="728.9" cy="280.3" rx="2.7" ry="3.2" fill="none"/>
<ellipse cx="741.9" cy="296.0" rx="4.4" ry="5.0" fill="#fff" stroke-width="1.2"/>
<ellipse cx="741.5" cy="296.0" rx="2.7" ry="3.2" fill="none"/>
<ellipse cx="779.7" cy="290.4" rx="4.4" ry="5.0" fill="#fff" stroke-width="1.2"/>
<ellipse cx="779.3" cy="290.4" rx="2.7" ry="3.2" fill="none"/>
<ellipse cx="767.1" cy="278.3" rx="4.4" ry="5.0" fill="#fff" stroke-width="1.2"/>
<ellipse cx="766.7" cy="278.3" rx="2.7" ry="3.2" fill="none"/>
<ellipse cx="739.9" cy="345.0" rx="4.4" ry="5.0" fill="#fff" stroke-width="1.2"/>
<ellipse cx="739.5" cy="345.0" rx="2.7" ry="3.2" fill="none"/>
<ellipse cx="778.3" cy="341.4" rx="4.4" ry="5.0" fill="#fff" stroke-width="1.2"/>
<ellipse cx="777.9" cy="341.4" rx="2.7" ry="3.2" fill="none"/>
<path d="M734.9,353L734.9,362L738,364.5L745.5,364L751,357.5L757,357L757,362.5L771,360.5L773,363.5L784,361.5L786,358L791,350" />
<path d="M740,364.5L745,358M748,363.5L753,357.5M775,363L779,356" class="t"/>
<path d="M806,349L811,356L838,351.5L839,344M816,350.5L820,355"/>
<path d="M703.8,262L706.5,262.8L707,269L710,273L709,278L712.4,285.3L727,287.5M712.4,285.3L711.5,312.7M718,291L718,355.4L712,357M711,341L718,341M713,296C716,305 716,318 715,330L718,341" />
<ellipse cx="708.2" cy="267.5" rx="2.2" ry="2.8" fill="#fff"/>
<ellipse cx="720.8" cy="296.0" rx="2.2" ry="2.8" fill="#fff"/>
<ellipse cx="723.6" cy="350.0" rx="2.2" ry="2.8" fill="#fff"/>
<g transform="rotate(-4.5 583.9 335.3)">
<path d="M583.9,260.1L607.8,260.1A17,75.2 0 0 1 607.8,410.5L583.9,410.5Z" fill="#fff"/>
<ellipse cx="583.9" cy="335.3" rx="17.0" ry="75.2" fill="#fff"/>
<path d="M565.5,282.3L580.5,282.3A14,52.6 0 0 1 580.5,387.5L565.5,387.5Z" fill="#fff"/>
<path d="M568.6,282.6A14.0,52.4 0 0 1 568.6,387.2M570.7,282.6A14.0,52.4 0 0 1 570.7,387.2M572.8,282.6A14.0,52.4 0 0 1 572.8,387.2M574.9,282.6A14.0,52.4 0 0 1 574.9,387.2M577.0,282.6A14.0,52.4 0 0 1 577.0,387.2M579.1,282.6A14.0,52.4 0 0 1 579.1,387.2M581.2,282.6A14.0,52.4 0 0 1 581.2,387.2" class="g"/>
<ellipse cx="565.5" cy="334.9" rx="14.5" ry="52.8" fill="#fff"/>
</g>
<g transform="rotate(-4.4 633 324.5)">
<ellipse cx="648.0" cy="324.5" rx="17.0" ry="60.4" fill="#fff"/>
<ellipse cx="641.0" cy="324.5" rx="17.0" ry="60.4" fill="#fff"/>
<path d="M633,264.1L641,264.1M633,384.9L641,384.9"/>
<ellipse cx="633.0" cy="324.5" rx="17.0" ry="60.4" fill="#fff"/>
<ellipse cx="633.5" cy="329.0" rx="13.5" ry="49.0" fill="none"/>
<path d="M637,283C645,296 647,326 644.5,356C643,366 641,372 638.5,376"/>
</g>
<path d="M624.5,314.5L631.5,313L635.8,316L635.8,333L630.2,335.7L624.5,331.5Z" fill="#fff"/>
<path d="M631.5,313L630.2,335.7" class="t"/>
<path d="M672.2,400.0L672.2,410.0"/>
<path d="M711.2,400.0L711.2,410.0"/>
<path d="M749,442.3L749,476L761.3,478L761.3,450.1Z" fill="#fff"/>
<path d="M749,442.3L776.5,429.6L783.5,436.8L761.3,450.1Z" fill="#fff"/>
<path d="M761.3,450.1L783.5,436.8L783.8,444Q784.6,447.3 787,446Q788.6,444.8 788.2,441.5L788,433.4L802.5,426.7L802.5,468L789.1,460.1L761.3,477Z" fill="#fff"/>
<path d="M775.8,426.7L789.1,419L802.5,426.7L788,433.4Z" fill="#fff"/>
<path d="M775.8,426.7L775.8,430M783.5,436.8L776.5,429.6"/>
<ellipse cx="778.7" cy="447.9" rx="2.6" ry="3.6" fill="none" transform="rotate(25 778.7 447.9)"/>
<ellipse cx="794.7" cy="439.6" rx="2.6" ry="3.6" fill="none" transform="rotate(25 794.7 439.6)"/>
<path d="M761.3,476.8L789.1,460.1L802.5,467.9L817,514.6L817,521L813.6,521.3Z" fill="#fff"/>
<path d="M802.5,467.9L817,514.6"/>
<ellipse cx="784.7" cy="474.1" rx="4.5" ry="2.8" fill="none" transform="rotate(-10 784.7 474.1)"/>
<ellipse cx="799.1" cy="501.3" rx="4.5" ry="2.8" fill="none" transform="rotate(-10 799.1 501.3)"/>
<path d="M742.5,478L752.5,472.5L761.3,476.8L750.5,483Z" fill="#fff"/>
<path d="M734.6,475.7L741,472.5L812,516.5Q824,524 825,540L825,652Q825,657 821,660L812.6,668L809,668.7L809,530Z" fill="#fff"/>
<path d="M674.5,509.1L734.6,475.7L801,516Q812.5,523 813.8,543.3L813.8,662Q813.5,668.5 809.1,668.7Q803,668 799.8,662.2L792.8,641.2L783.5,606.2Q779,593.5 769.5,588.7L725.3,565.4L677.5,523.5Q671.5,515.5 674.5,509.1Z" fill="#fff"/>
<path d="M674.5,509.1L734.6,475.7" stroke-width="1.8"/>
<path d="M726.8,481.3L798,524.5M813.8,544.5L825,539.8M806,521L817,514.6M811,527.5L821.5,522"/>
<ellipse cx="731.2" cy="494.6" rx="3.0" ry="4.5" fill="none" transform="rotate(-12 731.2 494.6)"/>
<ellipse cx="751.3" cy="502.9" rx="3.5" ry="5.0" fill="none" transform="rotate(-12 751.3 502.9)"/>
<ellipse cx="731.2" cy="515.8" rx="3.0" ry="4.5" fill="none" transform="rotate(-12 731.2 515.8)"/>
<ellipse cx="731.5" cy="537.5" rx="3.3" ry="4.8" fill="none" transform="rotate(-12 731.5 537.5)"/>
<ellipse cx="731.8" cy="559.2" rx="3.3" ry="4.8" fill="none" transform="rotate(-12 731.8 559.2)"/>
<ellipse cx="750.9" cy="557.8" rx="2.4" ry="3.5" fill="none" transform="rotate(-12 750.9 557.8)"/>
<ellipse cx="791.3" cy="525.8" rx="3.5" ry="5.0" fill="none" transform="rotate(-12 791.3 525.8)"/>
<ellipse cx="684.0" cy="520.9" rx="2.5" ry="3.5" fill="none" transform="rotate(-12 684.0 520.9)"/>
<ellipse cx="804.5" cy="655.2" rx="2.4" ry="3.5" fill="none" transform="rotate(-12 804.5 655.2)"/>
<ellipse cx="799.8" cy="553.8" rx="1.9" ry="3.0" fill="none" transform="rotate(-12 799.8 553.8)"/>
<ellipse cx="744.6" cy="511.8" rx="1.3" ry="1.6" fill="none"/>
<ellipse cx="764.6" cy="518.7" rx="1.9" ry="2.3" fill="none"/>
<ellipse cx="744.6" cy="564.3" rx="1.3" ry="1.6" fill="none"/>
<ellipse cx="806.4" cy="547.5" rx="1.4" ry="1.7" fill="none"/>
<ellipse cx="806.4" cy="600.4" rx="1.5" ry="1.8" fill="none"/>
<ellipse cx="775.4" cy="556.1" rx="22.5" ry="30.0" fill="none" transform="rotate(-14 775.4 556.1)"/>
<path d="M764.9,527.5C763,545 768,566 794,580.5M768.5,556.5L788.5,543.5"/>
<path d="M743.5,425.0L752.4,441.2"/>
<path d="M764.6,421.1L776.9,444.5"/>
<path d="M825.8,436.7C826,455 818,468 804.7,476.8"/>
<path d="M693.4,482.0L700.0,494.6"/>
<path d="M712.3,474.6C713,486 719,492.5 727.9,494.6"/>
<path d="M820.3,477.5C800,482 780,498 765.7,516.9"/>
<path d="M828,500.2C814,504 802,512 793.6,522"/>
<path d="M665.6,521.3L681.0,522.0"/>
<path d="M831.3,570.1C818,568 808,563 801,556.1"/>
<path d="M784.7,657.5C791,658.5 797,658 801.7,656.3"/>
<path d="M153.4,506.3L160.4,500.6M154.6,507.3L161.3,501.8"/>
<path d="M79,518.9L86,521.7L86,580.6L83,581.5L79,579Z" fill="#fff"/>
<ellipse cx="85.5" cy="525.0" rx="0.5" ry="1.3" fill="#111"/>
<ellipse cx="85.5" cy="575.5" rx="0.7" ry="1.5" fill="#111"/>
<path d="M55.2,511.9L70.7,511.9A12,37.2 0 0 1 70.7,586.2L55.2,586.2Z" fill="#fff"/>
<ellipse cx="55.2" cy="549.2" rx="12.6" ry="37.2" fill="#fff"/>
<ellipse cx="57.0" cy="549.7" rx="8.6" ry="24.0" fill="none"/>
<ellipse cx="58.2" cy="549.7" rx="7.2" ry="21.5" fill="none"/>
<path d="M143.5,639.4C143.1,639.0 141.7,638.4 141.0,637.0C140.3,635.6 140.1,637.6 139.3,631.0C138.6,624.4 137.3,604.2 136.5,597.4C135.7,590.6 135.4,592.1 134.5,590.0C133.6,587.9 132.7,586.1 130.9,584.8C129.2,583.5 126.8,583.2 124.0,582.0C121.2,580.8 117.6,580.3 114.1,577.7C110.6,575.1 105.6,569.5 102.9,566.5C100.2,563.5 98.9,562.3 98.0,560.0C97.1,557.7 95.6,559.0 97.3,552.5C99.0,546.0 105.0,529.9 108.0,521.0C111.0,512.1 114.2,502.8 115.5,499.2L126.7,499.6L149.5,506Q156.7,508 156.7,515L156.7,633.8Q156.5,639.4 153,639.4Z" fill="#fff"/>
<path d="M115.7,500.4L141,507.5Q146.3,509 146.3,514L146.3,633Q146.2,638 143.5,639.4"/>
<ellipse cx="132.3" cy="546.9" rx="7.0" ry="23.8" fill="none" transform="rotate(2 132.3 546.9)"/>
<path d="M136.5,531C134.5,540 134.5,556 137.5,565"/>
<ellipse cx="118.3" cy="509.9" rx="1.5" ry="3.4" fill="none"/>
<ellipse cx="125.3" cy="508.2" rx="1.5" ry="3.4" fill="none"/>
<ellipse cx="137.9" cy="510.5" rx="1.5" ry="3.4" fill="none"/>
<ellipse cx="118.3" cy="528.7" rx="1.5" ry="3.4" fill="none"/>
<ellipse cx="117.7" cy="549.7" rx="1.5" ry="3.4" fill="none"/>
<ellipse cx="118.3" cy="570.7" rx="1.5" ry="3.4" fill="none"/>
<ellipse cx="102.0" cy="555.9" rx="1.5" ry="3.4" fill="none"/>
<ellipse cx="123.5" cy="520.0" rx="0.9" ry="1.8" fill="none"/>
<ellipse cx="144.0" cy="527.0" rx="0.9" ry="1.8" fill="none"/>
<ellipse cx="142.5" cy="535.0" rx="0.9" ry="1.8" fill="none"/>
<ellipse cx="123.5" cy="560.0" rx="0.9" ry="1.8" fill="none"/>
<ellipse cx="122.5" cy="569.5" rx="0.9" ry="1.8" fill="none"/>
<ellipse cx="143.5" cy="628.0" rx="0.9" ry="1.8" fill="none"/>
<ellipse cx="130.4" cy="516.3" rx="0.9" ry="1.3" fill="#111"/>
<ellipse cx="143.5" cy="575.0" rx="0.8" ry="1.6" fill="#111"/>
<path d="M73.5,511.9C78,504 86,502 93,505.5C101,509.5 108,515.5 116,516L129.5,516"/>
<path d="M86.0,575.5L143.5,575.0"/>
<path d="M81.3,579.0L81.3,597.4L70.6,598.0"/>
<path d="M59.4,594.8L63,594.8L63,596.5L70.6,596.5L70.6,600L63,600L63,601.6L59.4,601.6Z" fill="#333"/>
<path d="M134.3,486.6L130.4,516.0"/>
</g>
<g id="labels">
<text x="24.0" y="175.0" font-size="16" letter-spacing="1.1">19</text>
<text x="58.0" y="172.5" font-size="16" letter-spacing="1.1">24</text>
<text x="86.0" y="171.0" font-size="16">9</text>
<text x="125.0" y="169.0" font-size="16">7</text>
<text transform="translate(142.8,194.5) scale(0.86,1)" font-size="16">D</text>
<text x="145.5" y="256.6" font-size="16" letter-spacing="1.1">17</text>
<text transform="translate(199.3,157.0) scale(0.86,1)" font-size="16">B</text>
<text x="200.8" y="95.5" font-size="16" letter-spacing="1.1">21</text>
<text x="149.5" y="116.8" font-size="16" letter-spacing="1.1">17</text>
<text x="180.6" y="115.3" font-size="16" letter-spacing="1.1">25</text>
<text transform="translate(260.0,139.4) scale(0.86,1)" font-size="16">G</text>
<text transform="translate(284.2,179.2) scale(0.86,1)" font-size="16">F</text>
<text transform="translate(284.0,206.8) scale(0.86,1)" font-size="16">E</text>
<text x="275.0" y="109.2" font-size="16" letter-spacing="1.1">21</text>
<text transform="translate(297.0,141.3) scale(0.86,1)" font-size="16">B</text>
<text transform="translate(368.3,102.3) scale(0.86,1)" font-size="16">A</text>
<text transform="translate(366.4,170.2) scale(0.86,1)" font-size="16">H</text>
<text x="432.6" y="113.6" font-size="16" letter-spacing="1.1">23</text>
<text x="462.5" y="118.7" font-size="16" letter-spacing="1.1">13</text>
<text x="445.2" y="194.4" font-size="16">5</text>
<text x="485.4" y="231.4" font-size="16" letter-spacing="1.1">13</text>
<text x="404.4" y="257.4" font-size="16" letter-spacing="1.1">23</text>
<text x="350.7" y="264.9" font-size="16">4</text>
<text x="501.6" y="249.6" font-size="16" letter-spacing="1.1">23</text>
<text x="527.0" y="264.3" font-size="16" letter-spacing="1.1">20</text>
<text x="285.5" y="266.0" font-size="16">1</text>
<text x="220.7" y="324.0" font-size="16" letter-spacing="1.1">26</text>
<text transform="translate(252.2,332.0) scale(0.86,1)" font-size="16">C</text>
<text x="29.5" y="361.5" font-size="16" letter-spacing="1.1">11</text>
<text x="131.7" y="372.5" font-size="16" letter-spacing="1.1">11</text>
<text x="378.6" y="354.7" font-size="16" letter-spacing="1.1">10</text>
<text x="292.3" y="441.5" font-size="16">6</text>
<text x="327.2" y="441.9" font-size="16">8</text>
<text x="350.2" y="439.0" font-size="16" letter-spacing="1.1">24</text>
<text x="380.4" y="437.7" font-size="16" letter-spacing="1.1">18</text>
<text transform="translate(659.4,66.1) scale(0.86,1)" font-size="16">A</text>
<text x="737.9" y="419.0" font-size="16">4</text>
<text transform="translate(758.6,419.6) scale(0.86,1)" font-size="16">A</text>
<text x="824.7" y="435.6" font-size="16">5</text>
<text x="688.3" y="481.3" font-size="16">1</text>
<text transform="translate(709.0,473.0) scale(0.86,1)" font-size="16">B</text>
<text transform="translate(824.3,482.4) scale(0.86,1)" font-size="16">F</text>
<text transform="translate(832.5,504.2) scale(0.86,1)" font-size="16">G</text>
<text transform="translate(649.5,525.8) scale(0.86,1)" font-size="16">D</text>
<text transform="translate(833.6,574.8) scale(0.86,1)" font-size="16">E</text>
<text transform="translate(771.4,662.6) scale(0.86,1)" font-size="16">C</text>
<text transform="translate(131.0,483.8) scale(0.86,1)" font-size="16">F</text>
</g>
<g id="wm">
<path d="M247.4,445.6C245.2,445.4 239.5,445.3 234.2,444.5C228.9,443.7 221.1,442.2 215.4,441.0C209.7,439.8 205.1,438.4 200.0,437.0C194.9,435.6 190.0,434.2 185.0,432.5C180.0,430.8 176.4,429.4 170.0,427.0C163.6,424.6 153.7,421.0 146.6,418.2C139.5,415.4 134.0,413.2 127.7,410.2C121.4,407.2 115.2,404.2 108.9,400.3C102.6,396.4 95.2,392.3 90.0,386.6C84.8,380.9 81.2,372.6 78.0,366.0C74.8,359.4 72.5,352.7 71.0,347.0C69.5,341.3 68.5,337.2 69.0,332.0C69.5,326.8 70.8,320.8 74.0,316.0C77.2,311.2 83.0,306.3 88.0,303.0C93.0,299.7 99.2,298.0 104.0,296.0C108.8,294.0 113.2,292.4 116.5,291.0C119.8,289.6 118.5,289.7 123.6,287.5C128.7,285.3 139.2,280.9 147.1,277.7C154.9,274.5 162.8,271.2 170.7,268.3C178.5,265.4 186.3,262.6 194.2,260.0C202.0,257.4 210.0,255.2 217.8,253.0C225.7,250.8 233.5,248.8 241.3,247.0C249.2,245.2 255.1,244.0 264.9,242.4C274.7,240.8 289.6,238.7 300.0,237.2C310.4,235.7 314.6,234.3 327.0,233.2C339.4,232.1 362.0,231.1 374.2,230.6C386.4,230.1 389.0,230.2 400.0,230.2C411.0,230.2 425.5,230.3 440.0,230.7C454.5,231.1 471.3,231.8 487.0,232.4C502.7,233.0 523.0,233.8 534.0,234.5C545.0,235.2 549.8,236.2 553.0,236.6C549.8,236.6 545.0,236.6 534.0,236.6C523.0,236.6 502.7,236.6 487.0,236.6C471.3,236.6 450.9,236.4 440.0,236.6C429.1,236.8 432.3,237.0 421.3,237.5C410.3,238.0 389.9,238.5 374.2,239.8C358.5,241.1 339.4,243.6 327.0,245.5C314.6,247.4 307.8,249.8 300.0,251.5C292.2,253.2 285.9,254.5 280.0,256.0C274.1,257.5 271.3,258.3 264.9,260.5C258.4,262.7 249.2,266.1 241.3,269.0C233.5,271.9 225.7,274.7 217.8,278.0C210.0,281.3 202.0,285.2 194.2,289.0C186.3,292.8 178.6,296.7 170.7,300.5C162.8,304.3 153.6,307.9 147.0,312.0C140.4,316.1 134.9,320.9 131.0,325.0C127.1,329.1 125.3,332.7 123.6,336.5C121.8,340.3 121.1,344.1 120.5,348.0C119.9,351.9 119.7,355.8 120.0,360.0C120.3,364.2 121.1,369.0 122.5,373.0C123.9,377.0 125.4,380.1 128.3,384.2C131.2,388.3 135.4,393.3 140.1,397.5C144.8,401.7 149.9,405.5 156.3,409.3C162.7,413.1 171.8,417.0 178.5,420.5C185.2,424.0 190.3,427.4 196.5,430.3C202.7,433.2 209.1,435.6 215.4,437.8C221.7,440.0 228.9,442.2 234.2,443.5C239.5,444.8 245.2,445.2 247.4,445.6Z" fill="#dfdfdf" stroke="none"/>
<path d="M451.8,237.8C457.7,237.6 473.3,237.0 487.0,236.8C500.7,236.6 523.0,236.6 534.0,236.6C545.0,236.6 545.1,236.3 553.0,236.8C560.9,237.3 572.6,238.4 581.3,239.4C589.9,240.4 597.8,241.8 604.9,243.0C612.0,244.2 617.9,245.2 623.8,246.5C629.6,247.8 633.4,249.2 640.0,250.8C646.6,252.4 655.7,254.0 663.6,256.2C671.5,258.4 679.3,261.0 687.2,264.2C695.1,267.4 702.9,271.5 710.8,275.5C718.7,279.5 726.5,283.5 734.4,288.4C742.3,293.3 751.3,299.5 758.0,305.0C764.7,310.5 770.6,316.8 774.5,321.5C778.4,326.2 780.2,329.4 781.6,333.3C783.0,337.2 783.3,340.9 783.0,345.0C782.7,349.1 781.3,354.2 780.0,358.0C778.7,361.8 777.7,363.3 775.0,368.0C772.3,372.7 768.0,381.3 763.7,386.0C759.4,390.7 753.9,393.1 749.0,396.3C744.1,399.5 739.1,402.4 734.2,405.2C729.3,408.0 724.4,410.8 719.5,413.3C714.6,415.8 709.6,418.2 704.7,420.2C699.8,422.2 695.8,423.6 690.0,425.5C684.2,427.4 676.7,429.7 670.0,431.5C663.3,433.3 656.4,435.0 650.0,436.5C643.6,438.0 639.1,439.0 631.8,440.5C624.5,442.0 610.3,444.5 606.0,445.3C610.3,443.8 623.2,440.0 631.8,436.5C640.4,433.0 650.5,427.8 657.7,424.5C664.9,421.2 669.6,419.2 675.0,417.0C680.4,414.8 685.0,413.6 690.0,411.0C695.0,408.4 699.8,405.3 704.7,401.5C709.6,397.7 715.5,392.4 719.5,388.0C723.5,383.6 726.5,379.3 729.0,375.0C731.5,370.7 733.2,366.2 734.5,362.0C735.8,357.8 736.4,354.3 736.5,350.0C736.6,345.7 736.1,340.0 735.0,336.0C733.9,332.0 732.1,329.2 730.0,326.0C727.9,322.8 725.8,320.7 722.6,316.8C719.4,312.9 716.7,307.9 710.8,302.6C704.9,297.3 695.1,289.9 687.2,285.0C679.3,280.1 671.5,276.7 663.6,273.5C655.7,270.3 649.8,268.5 640.0,266.0C630.2,263.5 614.7,260.6 604.9,258.5C595.1,256.4 593.1,255.8 581.3,253.6C569.5,251.4 549.7,247.5 534.0,245.3C518.3,243.1 500.7,241.8 487.0,240.6C473.3,239.3 457.7,238.3 451.8,237.8Z" fill="#fbe2e3" stroke="none"/>
<clipPath id="cq"><rect x="150" y="280" width="520" height="61"/></clipPath>
<g clip-path="url(#cq)"><text transform="translate(198.5,338.9) scale(1.2165,1)" font-size="59.4" letter-spacing="-2" fill="#fadede" stroke="#fadede" stroke-width="3.2" stroke-linejoin="round" font-family="'DejaVu Sans','Liberation Sans',sans-serif">EQUIPMENT</text></g>
<text transform="translate(201.5,396.9) scale(1.2384,1)" font-size="59.4" letter-spacing="-2" fill="#e1e1e1" stroke="#e1e1e1" stroke-width="3.2" stroke-linejoin="round" font-family="'DejaVu Sans','Liberation Sans',sans-serif">SPECIALISTS</text>
</g>
</svg>
</body>
</html>
